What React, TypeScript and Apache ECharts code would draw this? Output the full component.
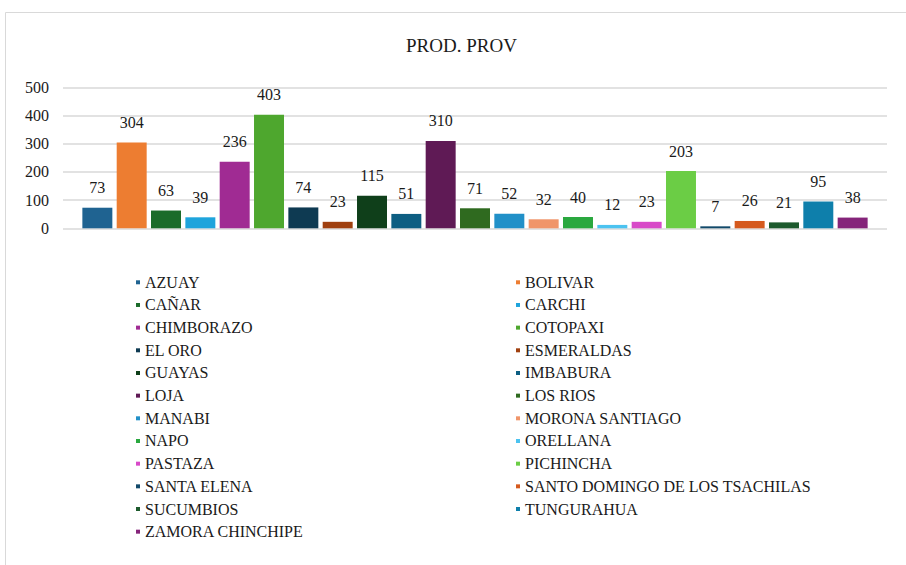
import React, { useEffect, useRef } from "react";
import * as echarts from "echarts";

const provinces = [
  "AZUAY", "BOLIVAR", "CAÑAR", "CARCHI", "CHIMBORAZO", "COTOPAXI", "EL ORO", "ESMERALDAS",
  "GUAYAS", "IMBABURA", "LOJA", "LOS RIOS", "MANABI", "MORONA SANTIAGO", "NAPO", "ORELLANA",
  "PASTAZA", "PICHINCHA", "SANTA ELENA", "SANTO DOMINGO DE LOS TSACHILAS", "SUCUMBIOS",
  "TUNGURAHUA", "ZAMORA CHINCHIPE",
];
const values = [73, 304, 63, 39, 236, 403, 74, 23, 115, 51, 310, 71, 52, 32, 40, 12, 23, 203, 7, 26, 21, 95, 38];
const colors = [
  "#1f6391", "#ed7d31", "#1b6b2a", "#1ea4dc", "#a02b93", "#4ea72e", "#0e3a52", "#a0400f",
  "#0f3f1a", "#0d5e82", "#5f1a55", "#2f6a1f", "#2190c8", "#f0956a", "#2aa83f", "#4cc3f0",
  "#d84ac8", "#6bcd45", "#124a6a", "#d55a1e", "#1d5a2d", "#0e7fab", "#85247a",
];
const yTicks = { min: 0, max: 500, interval: 100 };
const title = "PROD. PROV";

const FONT = "Liberation Serif";

export default function App() {
  const ref = useRef<HTMLDivElement>(null);
  useEffect(() => {
    if (!ref.current) return;
    const chart = echarts.init(ref.current, undefined, { renderer: "svg" });
    const leftNames = provinces.filter((_, i) => i % 2 === 0);
    const rightNames = provinces.filter((_, i) => i % 2 === 1);
    const legendCommon = {
      orient: "vertical" as const,
      top: 274.3,
      padding: 0,
      itemWidth: 4,
      itemHeight: 4,
      itemGap: 6.67,
      icon: "rect",
      textStyle: { fontFamily: FONT, fontSize: 16, color: "#1a1a1a", lineHeight: 16 },
    };
    chart.setOption({
      animation: false,
      backgroundColor: "#ffffff",
      textStyle: { fontFamily: FONT },
      title: {
        text: title,
        left: 406,
        top: 36,
        padding: 0,
        textStyle: { fontFamily: FONT, fontSize: 19, fontWeight: "normal", color: "#1a1a1a" },
      },
      graphic: [
        {
          type: "rect",
          shape: { x: 5.5, y: 12.5, width: 960, height: 600 },
          style: { fill: "none", stroke: "#d9d9d9", lineWidth: 1 },
          silent: true,
        },
      ],
      legend: [
        { ...legendCommon, left: 136, data: leftNames },
        { ...legendCommon, left: 516, data: rightNames },
      ],
      grid: { left: 63, right: 19, top: 87.3, bottom: 336.7, containLabel: false },
      xAxis: {
        type: "category",
        data: [""],
        axisLine: { show: false },
        axisTick: { show: false },
        axisLabel: { show: false },
      },
      yAxis: {
        type: "value",
        min: yTicks.min,
        max: yTicks.max,
        interval: yTicks.interval,
        axisLine: { show: false },
        axisTick: { show: false },
        axisLabel: { fontFamily: FONT, fontSize: 16, color: "#1a1a1a", margin: 14 },
        splitLine: { lineStyle: { color: "#d9d9d9", width: 1.5 } },
      },
      series: provinces.map((name, i) => ({
        name,
        type: "bar",
        data: [values[i]],
        barGap: "14.5%",
        barCategoryGap: "4.7%",
        itemStyle: { color: colors[i] },
        label: {
          show: true,
          position: "top",
          distance: 12,
          fontFamily: FONT,
          fontSize: 16,
          color: "#1a1a1a",
        },
      })),
    });
    return () => chart.dispose();
  }, []);
  return (
    <div
      ref={ref}
      style={{ position: "fixed", left: 0, top: 0, width: 906, height: 565, background: "#fff" }}
    />
  );
}
